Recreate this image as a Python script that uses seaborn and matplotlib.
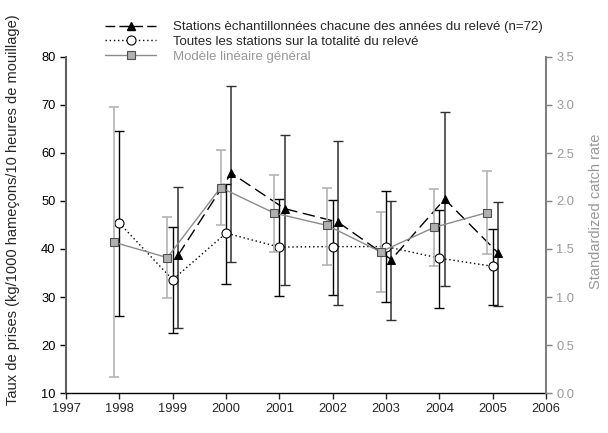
import numpy as np
import pandas as pd
import matplotlib
matplotlib.use("Agg")
import matplotlib.pyplot as plt
import seaborn as sns
from matplotlib.lines import Line2D

# Stations sampled every year of the survey (n=72), 1999-2005
years_n72 = [1999, 2000, 2001, 2002, 2003, 2004, 2005]
n72_mean = [38.7, 55.8, 48.4, 45.6, 37.8, 50.4, 39.2]
n72_lo = [23.6, 37.2, 32.5, 28.3, 25.2, 32.2, 28.2]
n72_hi = [52.9, 74.0, 63.8, 62.4, 50.1, 68.5, 49.8]

# All stations over the whole survey
years_all = [1998, 1999, 2000, 2001, 2002, 2003, 2004, 2005]
all_mean = [45.4, 33.6, 43.3, 40.4, 40.5, 40.5, 38.1, 36.4]
all_lo = [26.1, 22.4, 32.8, 30.3, 30.5, 28.9, 27.7, 28.3]
all_hi = [64.6, 44.6, 53.6, 50.4, 50.3, 52.1, 48.2, 44.2]

# General linear model (standardized catch rate, right axis)
glm_mean = [1.57, 1.41, 2.14, 1.875, 1.745, 1.47, 1.725, 1.88]
glm_lo = [0.165, 0.99, 1.75, 1.47, 1.335, 1.055, 1.32, 1.45]
glm_hi = [2.98, 1.83, 2.53, 2.27, 2.14, 1.885, 2.125, 2.31]

labels = ["Stations èchantillonnées chacune des années du relevé (n=72)",
          "Toutes les stations sur la totalité du relevé",
          "Modèle linéaire général"]

sns.set_style("ticks")
plt.rcParams['font.family'] = ['Liberation Sans', 'DejaVu Sans']

off = 0.1
df_n72 = pd.DataFrame({'x': np.array(years_n72) + off, 'y': n72_mean})
df_all = pd.DataFrame({'x': years_all, 'y': all_mean})
df_glm = pd.DataFrame({'x': np.array(years_all) - off, 'y': glm_mean})

fig = plt.figure(figsize=(6.08, 4.33), dpi=100)
ax = fig.add_axes([66/608, 40/433, 480/608, 336/433])
ax2 = ax.twinx()

grey_bar = '#b4b4b4'
grey_line = '#8c8c8c'
tri_style = dict(color='black', lw=1, linestyle=(0, (9, 4)), marker='^', markersize=6,
                 markerfacecolor='black', markeredgecolor='black')
circ_style = dict(color='black', lw=1, linestyle=(0, (1, 2)), marker='o', markersize=6.5,
                  markerfacecolor='white', markeredgecolor='black', markeredgewidth=0.8)
sq_style = dict(color=grey_line, lw=1, marker='s', markersize=5.5, markerfacecolor='#b0b0b0',
                markeredgecolor='#505050', markeredgewidth=0.8)

# GLM on the right axis
ax2.errorbar(df_glm['x'], glm_mean,
             yerr=[np.array(glm_mean) - glm_lo, np.array(glm_hi) - glm_mean],
             fmt='none', ecolor=grey_bar, elinewidth=1.2, capsize=3.5, capthick=1.2, zorder=1)
sns.lineplot(data=df_glm, x='x', y='y', ax=ax2, zorder=3, **sq_style)

# observed series on the left axis
ax.errorbar(df_all['x'], all_mean,
            yerr=[np.array(all_mean) - all_lo, np.array(all_hi) - all_mean],
            fmt='none', ecolor='black', elinewidth=1, capsize=3.5, capthick=1, zorder=1)
ax.errorbar(df_n72['x'], n72_mean,
            yerr=[np.array(n72_mean) - n72_lo, np.array(n72_hi) - n72_mean],
            fmt='none', ecolor='#303030', elinewidth=1.1, capsize=3.5, capthick=1, zorder=1)
sns.lineplot(data=df_all, x='x', y='y', ax=ax, zorder=3, **circ_style)
sns.lineplot(data=df_n72, x='x', y='y', ax=ax, zorder=3, **tri_style)

ax.set_xlim(1997, 2006)
ax.set_ylim(10, 80)
ax2.set_ylim(0, 3.5)
ax.set_xticks(range(1997, 2007))
ax.set_yticks(range(10, 81, 10))
ax2.set_yticks(np.arange(0, 3.51, 0.5))
ax2.set_yticklabels([f"{v:.1f}" for v in np.arange(0, 3.51, 0.5)])
ax.set_xlabel("")
ax.set_ylabel("Taux de prises (kg/1000 hameçons/10 heures de mouillage)", fontsize=10.5)
ax2.set_ylabel("Standardized catch rate", fontsize=10.5, color='#999999')
ax.yaxis.set_label_coords(-46/480, 0.545)
ax2.yaxis.set_label_coords(1 + 43/480, 0.54)

for a in (ax, ax2):
    a.tick_params(labelsize=9.3, length=4, width=1)
ax.tick_params(axis='y', colors='black')
ax2.tick_params(axis='y', colors='#808080', labelcolor='#999999')

for a in (ax, ax2):
    a.spines['top'].set_visible(False)
ax.spines['right'].set_visible(False)
ax2.spines['left'].set_visible(False)
ax2.spines['bottom'].set_visible(False)
ax.spines['left'].set_color('#606060')
ax.spines['left'].set_linewidth(1.5)
ax2.spines['right'].set_color('#808080')
ax2.spines['right'].set_linewidth(1.5)
ax.spines['bottom'].set_color('black')
ax.spines['bottom'].set_linewidth(1)

handles = [Line2D([], [], **tri_style), Line2D([], [], **circ_style), Line2D([], [], **sq_style)]
handles[0].set_linestyle((0, (7, 3)))
leg = fig.legend(handles, labels, loc='upper left', bbox_to_anchor=(105/608, 1 - 21/433),
                 frameon=False, fontsize=9.5, handlelength=3.9, handletextpad=1.25,
                 labelspacing=0.2, borderpad=0, borderaxespad=0)
leg.get_texts()[2].set_color('#999999')

fig.savefig("out.png", dpi=100)
